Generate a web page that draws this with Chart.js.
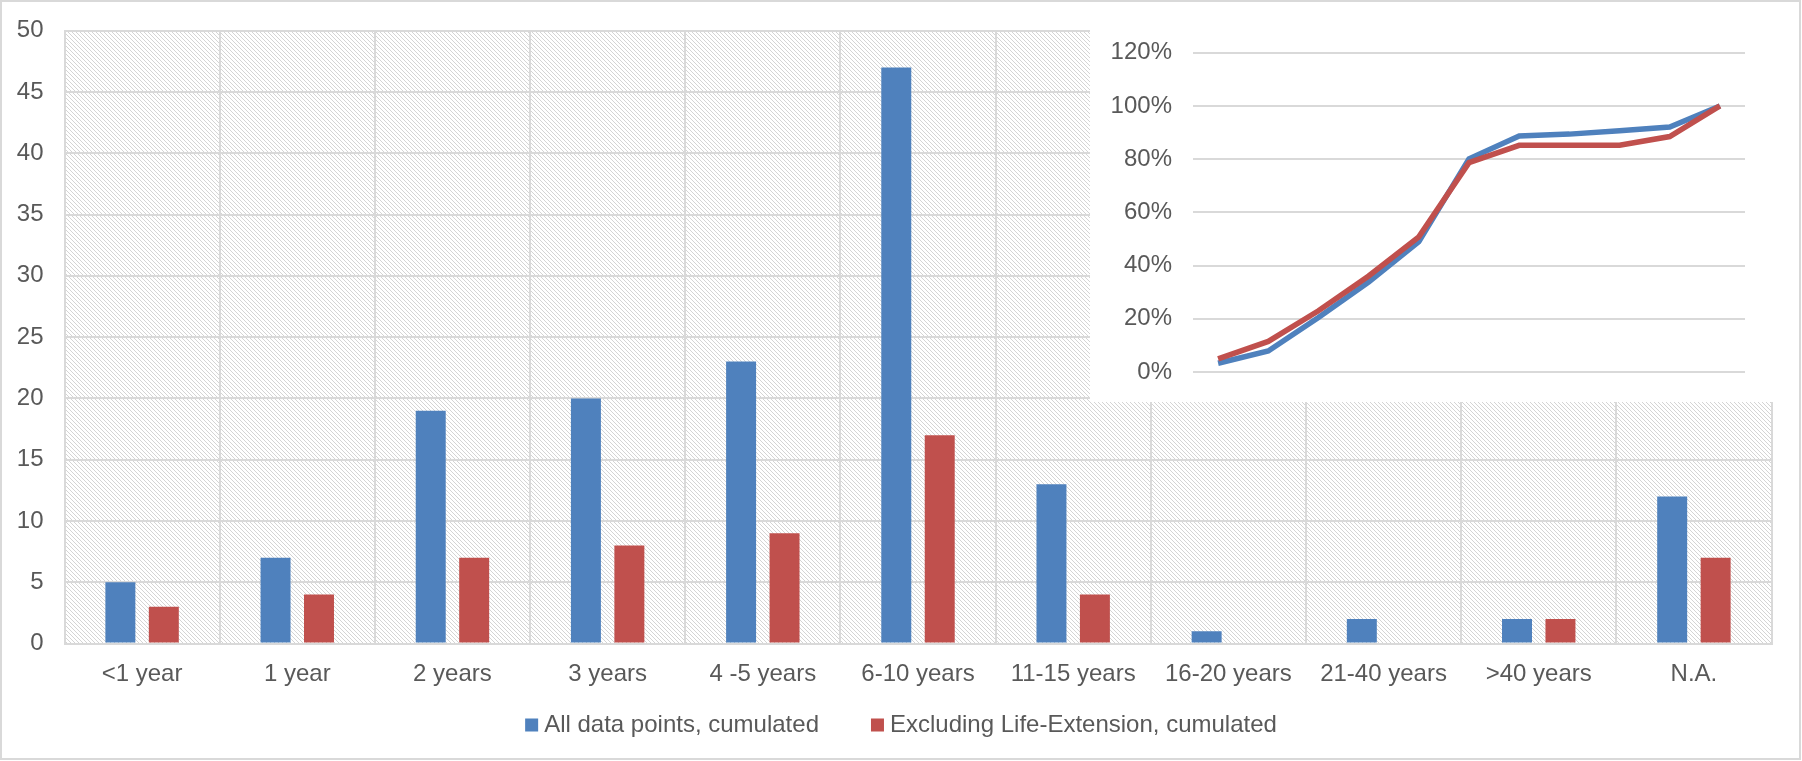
<!DOCTYPE html>
<html>
<head>
<meta charset="utf-8">
<title>Lifetime distribution</title>
<script src="https://cdn.jsdelivr.net/npm/chart.js@4/dist/chart.umd.min.js"></script>
<style>
  html, body { margin: 0; padding: 0; background: #ffffff; }
  #wrap { position: relative; width: 1802px; height: 761px; overflow: hidden; }
  #mainChart { position: absolute; left: 0; top: 0; }
  #insetBox { position: absolute; left: 1090px; top: 2px; width: 700px; height: 400px; background: #ffffff; }
  #insetChart { display: block; }
  #frame { position: absolute; left: 0; top: 0; width: 1801px; height: 760px; box-sizing: border-box;
           border: 2px solid #d9d9d9; pointer-events: none; }
</style>
</head>
<body>
<div id="wrap">
  <canvas id="mainChart" width="1802" height="761"></canvas>
  <div id="insetBox"><canvas id="insetChart" width="700" height="400"></canvas></div>
  <div id="frame"></div>
</div>
<script>
/* -------------------------------------------------------
   Data
------------------------------------------------------- */
const categories = ['<1 year', '1 year', '2 years', '3 years', '4 -5 years', '6-10 years',
                    '11-15 years', '16-20 years', '21-40 years', '>40 years', 'N.A.'];

const seriesNames = ['All data points, cumulated', 'Excluding Life-Extension, cumulated'];

// bar counts per category
const allPoints      = [5, 7, 19, 20, 23, 47, 13, 1, 2, 2, 12];
const exclLifeExt    = [3, 4, 7, 8, 9, 17, 4, 0, 0, 2, 7];

// cumulative share (%)
const allPointsCum   = [3.3, 7.9, 20.5, 33.8, 49.0, 80.1, 88.7, 89.4, 90.7, 92.1, 100];
const exclLifeExtCum = [4.9, 11.5, 23.0, 36.1, 50.8, 78.7, 85.2, 85.2, 85.2, 88.5, 100];

const barTicks   = { min: 0, max: 50, step: 5 };
const insetTicks = { min: 0, max: 120, step: 20 };

/* -------------------------------------------------------
   Colors / fonts
------------------------------------------------------- */
const COLORS = {
  blue:  '#4f81bd',
  red:   '#c0504d',
  grid:  '#d9d9d9',
  hatch: '#d4d4d4',
  text:  '#595959',
};
const FONT_FAMILY = "'Liberation Sans', Arial, sans-serif";
const FONT_SIZE = 24;

Chart.defaults.font.family = FONT_FAMILY;
Chart.defaults.font.size = FONT_SIZE;
Chart.defaults.color = COLORS.text;
Chart.defaults.animation = false;

// tick padding should not push the plot area around
const noEdgePadding = s => { s.paddingTop = 0; s.paddingBottom = 0; s.paddingLeft = 0; s.paddingRight = 0; };

/* -------------------------------------------------------
   Hatched plot background (light downward diagonal)
------------------------------------------------------- */
function makeHatch() {
  const c = document.createElement('canvas');
  c.width = 8; c.height = 8;
  const g = c.getContext('2d');
  g.fillStyle = COLORS.hatch;
  for (let y = 0; y < 8; y++) {
    for (let x = 0; x < 8; x++) {
      if (((x - y) % 4 + 4) % 4 === 0) g.fillRect(x, y, 1, 1);
    }
  }
  return g.createPattern(c, 'repeat');
}

const hatchBackground = {
  id: 'hatchBackground',
  beforeDraw(chart) {
    const { ctx, chartArea: a } = chart;
    ctx.save();
    ctx.fillStyle = makeHatch();
    ctx.fillRect(a.left, a.top, a.right - a.left, a.bottom - a.top);
    ctx.restore();
  }
};

/* -------------------------------------------------------
   Legend drawn under the axis labels
------------------------------------------------------- */
const bottomLegend = {
  id: 'bottomLegend',
  afterDraw(chart) {
    const ctx = chart.ctx;
    const box = 13, gapText = 6, gapItem = 52, yMid = 725;
    ctx.save();
    ctx.font = FONT_SIZE + 'px ' + FONT_FAMILY;
    ctx.textBaseline = 'middle';
    const items = chart.data.datasets.map(ds => ({
      label: ds.label, color: ds.backgroundColor, w: ctx.measureText(ds.label).width
    }));
    const total = items.reduce((s, it) => s + box + gapText + it.w, 0) + gapItem * (items.length - 1);
    let x = chart.width / 2 - total / 2;
    items.forEach(it => {
      ctx.fillStyle = it.color;
      ctx.fillRect(x, yMid - box / 2, box, box);
      ctx.fillStyle = COLORS.text;
      ctx.fillText(it.label, x + box + gapText, yMid);
      x += box + gapText + it.w + gapItem;
    });
    ctx.restore();
  }
};

/* -------------------------------------------------------
   Main: counts per lifetime class (Bar Chart)
------------------------------------------------------- */
function initMainChart(canvasId) {
  const ctx = document.getElementById(canvasId);
  if (!ctx) return;

  return new Chart(ctx, {
    type: 'bar',
    data: {
      labels: categories,
      datasets: [
        { label: seriesNames[0], data: allPoints,   backgroundColor: COLORS.blue,
          categoryPercentage: 0.56, barPercentage: 0.69 },
        { label: seriesNames[1], data: exclLifeExt, backgroundColor: COLORS.red,
          categoryPercentage: 0.56, barPercentage: 0.69 },
      ]
    },
    options: {
      responsive: false,
      layout: { padding: { top: 30.7, right: 30.5, bottom: 0, left: 0 } },
      plugins: {
        legend: { display: false },
        tooltip: { enabled: false }
      },
      scales: {
        x: {
          grid: { color: COLORS.grid, lineWidth: 2, drawTicks: false, offset: true },
          border: { display: true, color: COLORS.grid, width: 2 },
          ticks: { padding: 16.5, maxRotation: 0, autoSkip: false },
          afterFit: s => { noEdgePadding(s); s.height = 117.5; }
        },
        y: {
          min: barTicks.min,
          max: barTicks.max,
          grid: { color: COLORS.grid, lineWidth: 2, drawTicks: false },
          border: { display: true, color: COLORS.grid, width: 2 },
          ticks: { stepSize: barTicks.step, padding: 21 },
          afterFit: s => { noEdgePadding(s); s.width = 64.5; }
        }
      }
    },
    plugins: [hatchBackground, bottomLegend]
  });
}

/* -------------------------------------------------------
   Inset: cumulative share (Line Chart)
------------------------------------------------------- */
function initInsetChart(canvasId) {
  const ctx = document.getElementById(canvasId);
  if (!ctx) return;

  return new Chart(ctx, {
    type: 'line',
    data: {
      labels: categories,
      datasets: [
        { label: seriesNames[0], data: allPointsCum, borderColor: COLORS.blue,
          borderWidth: 5.5, pointRadius: 0, tension: 0, order: 1 },
        { label: seriesNames[1], data: exclLifeExtCum, borderColor: COLORS.red,
          borderWidth: 5.5, pointRadius: 0, tension: 0, order: 0 },
      ]
    },
    options: {
      responsive: false,
      layout: { padding: { top: 50.7, right: 45, bottom: 30, left: 0 } },
      plugins: {
        legend: { display: false },
        tooltip: { enabled: false }
      },
      scales: {
        x: { display: false, offset: true },
        y: {
          min: insetTicks.min,
          max: insetTicks.max,
          grid: { color: COLORS.grid, lineWidth: 2, drawTicks: false },
          border: { display: false },
          ticks: { stepSize: insetTicks.step, padding: 21, callback: v => v + '%' },
          afterFit: s => { noEdgePadding(s); s.width = 103; }
        }
      }
    }
  });
}

initMainChart('mainChart');
initInsetChart('insetChart');
</script>
</body>
</html>
